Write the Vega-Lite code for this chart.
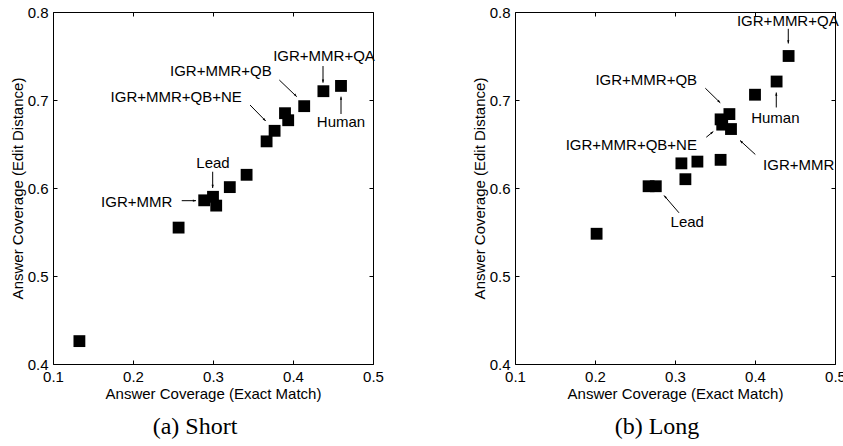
{
  "$schema": "https://vega.github.io/schema/vega-lite/v6.json",
  "padding": {"left": 10, "top": 5, "right": 0, "bottom": 0},
  "spacing": 88,
  "config": {
    "view": {"stroke": null},
    "font": "Liberation Sans",
    "axis": {
      "grid": false,
      "domainColor": "black",
      "domainWidth": 1,
      "tickColor": "black",
      "tickSize": -4,
      "labelPadding": 9,
      "labelColor": "black",
      "labelFont": "Liberation Sans",
      "labelFontSize": 15,
      "labelFlush": false,
      "titleColor": "black",
      "titleFont": "Liberation Sans",
      "titleFontSize": 15,
      "titleFontWeight": "normal",
      "titlePadding": 2
    },
    "title": {
      "font": "Liberation Serif",
      "fontSize": 24,
      "fontWeight": "normal",
      "color": "black"
    }
  },
  "datasets": {
    "short": [
      {"x": 0.460, "y": 0.716}, {"x": 0.438, "y": 0.710}, {"x": 0.414, "y": 0.693},
      {"x": 0.390, "y": 0.685}, {"x": 0.394, "y": 0.677}, {"x": 0.377, "y": 0.665},
      {"x": 0.367, "y": 0.653}, {"x": 0.342, "y": 0.615}, {"x": 0.321, "y": 0.601},
      {"x": 0.300, "y": 0.590}, {"x": 0.289, "y": 0.586}, {"x": 0.304, "y": 0.580},
      {"x": 0.257, "y": 0.555}, {"x": 0.133, "y": 0.426}
    ],
    "long": [
      {"x": 0.442, "y": 0.750}, {"x": 0.427, "y": 0.721}, {"x": 0.400, "y": 0.706},
      {"x": 0.368, "y": 0.684}, {"x": 0.357, "y": 0.678}, {"x": 0.359, "y": 0.672},
      {"x": 0.370, "y": 0.667}, {"x": 0.357, "y": 0.632}, {"x": 0.328, "y": 0.630},
      {"x": 0.308, "y": 0.628}, {"x": 0.313, "y": 0.610}, {"x": 0.267, "y": 0.602},
      {"x": 0.276, "y": 0.602}, {"x": 0.202, "y": 0.548}
    ],
    "shortAnn": [
      {"label": "IGR+MMR+QA", "tx": 0.4388, "ty": 0.750, "ax": 0.4375, "ay": 0.7386, "ax2": 0.4375, "ay2": 0.7197, "heading": 180},
      {"label": "IGR+MMR+QB", "tx": 0.3098, "ty": 0.733, "ax": 0.3829, "ay": 0.7227, "ax2": 0.4046, "ay2": 0.7038, "heading": 137},
      {"label": "IGR+MMR+QB+NE", "tx": 0.254, "ty": 0.7034, "ax": 0.3463, "ay": 0.6943, "ax2": 0.3659, "ay2": 0.6761, "heading": 135},
      {"label": "Human", "tx": 0.46, "ty": 0.675, "ax": 0.46, "ay": 0.6841, "ax2": 0.46, "ay2": 0.7038, "heading": 0},
      {"label": "Lead", "tx": 0.3, "ty": 0.6284, "ax": 0.2996, "ay": 0.6185, "ax2": 0.2996, "ay2": 0.600, "heading": 180},
      {"label": "IGR+MMR", "tx": 0.2046, "ty": 0.5844, "ax": 0.2609, "ay": 0.5856, "ax2": 0.2788, "ay2": 0.5856, "heading": 90}
    ],
    "longAnn": [
      {"label": "IGR+MMR+QA", "tx": 0.441, "ty": 0.7903, "ax": 0.4416, "ay": 0.7809, "ax2": 0.4416, "ay2": 0.7642, "heading": 180},
      {"label": "Human", "tx": 0.4254, "ty": 0.6801, "ax": 0.4266, "ay": 0.6915, "ax2": 0.4266, "ay2": 0.7085, "heading": 0},
      {"label": "IGR+MMR+QB", "tx": 0.2641, "ty": 0.7222, "ax": 0.3379, "ay": 0.7134, "ax2": 0.3566, "ay2": 0.6968, "heading": 134},
      {"label": "IGR+MMR+QB+NE", "tx": 0.2454, "ty": 0.6494, "ax": 0.3391, "ay": 0.6577, "ax2": 0.3479, "ay2": 0.6642, "heading": 51},
      {"label": "IGR+MMR", "tx": 0.4546, "ty": 0.6264, "ax": 0.4004, "ay": 0.6381, "ax2": 0.3813, "ay2": 0.654, "heading": 313},
      {"label": "Lead", "tx": 0.3153, "ty": 0.5611, "ax": 0.305, "ay": 0.5718, "ax2": 0.2863, "ay2": 0.5915, "heading": 319}
    ]
  },
  "hconcat": [
    {
      "width": 320,
      "height": 352,
      "title": {"text": "(a) Short", "orient": "bottom", "offset": 14, "dx": -18},
      "layer": [
        {
          "data": {"name": "short"},
          "mark": {"type": "point", "shape": "square", "filled": true, "size": 140, "color": "black", "opacity": 1, "strokeWidth": 0},
          "encoding": {
            "x": {"field": "x", "type": "quantitative", "scale": {"domain": [0.1, 0.5], "nice": false, "zero": false},
                  "axis": {"orient": "bottom", "values": [0.1, 0.2, 0.3, 0.4, 0.5], "format": ".1f", "title": "Answer Coverage (Exact Match)"}},
            "y": {"field": "y", "type": "quantitative", "scale": {"domain": [0.4, 0.8], "nice": false, "zero": false},
                  "axis": {"orient": "left", "values": [0.4, 0.5, 0.6, 0.7, 0.8], "format": ".1f", "title": "Answer Coverage (Edit Distance)"}}
          }
        },
        {
          "data": {"name": "shortAnn"},
          "mark": {"type": "rule", "color": "black", "strokeWidth": 1},
          "encoding": {
            "x": {"field": "ax", "type": "quantitative", "scale": {"domain": [0.1, 0.5], "nice": false, "zero": false},
                  "axis": {"orient": "top", "values": [0.1, 0.2, 0.3, 0.4, 0.5], "labels": false, "title": null}},
            "y": {"field": "ay", "type": "quantitative", "scale": {"domain": [0.4, 0.8], "nice": false, "zero": false},
                  "axis": {"orient": "right", "values": [0.4, 0.5, 0.6, 0.7, 0.8], "labels": false, "title": null}},
            "x2": {"field": "ax2"},
            "y2": {"field": "ay2"}
          }
        },
        {
          "data": {"name": "shortAnn"},
          "mark": {"type": "point", "shape": "M0,0L-0.35,1L0.35,1Z", "filled": true, "size": 40, "color": "black", "opacity": 1, "strokeWidth": 0},
          "encoding": {
            "x": {"field": "ax2", "type": "quantitative", "scale": {"domain": [0.1, 0.5], "nice": false, "zero": false}, "axis": null},
            "y": {"field": "ay2", "type": "quantitative", "scale": {"domain": [0.4, 0.8], "nice": false, "zero": false}, "axis": null},
            "angle": {"field": "heading", "type": "quantitative", "scale": null}
          }
        },
        {
          "data": {"name": "shortAnn"},
          "mark": {"type": "text", "font": "Liberation Sans", "fontSize": 15, "color": "black", "align": "center", "baseline": "middle"},
          "encoding": {
            "x": {"field": "tx", "type": "quantitative", "scale": {"domain": [0.1, 0.5], "nice": false, "zero": false}, "axis": null},
            "y": {"field": "ty", "type": "quantitative", "scale": {"domain": [0.4, 0.8], "nice": false, "zero": false}, "axis": null},
            "text": {"field": "label", "type": "nominal"}
          }
        }
      ]
    },
    {
      "width": 320,
      "height": 352,
      "title": {"text": "(b) Long", "orient": "bottom", "offset": 14, "dx": -18},
      "layer": [
        {
          "data": {"name": "long"},
          "mark": {"type": "point", "shape": "square", "filled": true, "size": 140, "color": "black", "opacity": 1, "strokeWidth": 0},
          "encoding": {
            "x": {"field": "x", "type": "quantitative", "scale": {"domain": [0.1, 0.5], "nice": false, "zero": false},
                  "axis": {"orient": "bottom", "values": [0.1, 0.2, 0.3, 0.4, 0.5], "format": ".1f", "title": "Answer Coverage (Exact Match)"}},
            "y": {"field": "y", "type": "quantitative", "scale": {"domain": [0.4, 0.8], "nice": false, "zero": false},
                  "axis": {"orient": "left", "values": [0.4, 0.5, 0.6, 0.7, 0.8], "format": ".1f", "title": "Answer Coverage (Edit Distance)"}}
          }
        },
        {
          "data": {"name": "longAnn"},
          "mark": {"type": "rule", "color": "black", "strokeWidth": 1},
          "encoding": {
            "x": {"field": "ax", "type": "quantitative", "scale": {"domain": [0.1, 0.5], "nice": false, "zero": false},
                  "axis": {"orient": "top", "values": [0.1, 0.2, 0.3, 0.4, 0.5], "labels": false, "title": null}},
            "y": {"field": "ay", "type": "quantitative", "scale": {"domain": [0.4, 0.8], "nice": false, "zero": false},
                  "axis": {"orient": "right", "values": [0.4, 0.5, 0.6, 0.7, 0.8], "labels": false, "title": null}},
            "x2": {"field": "ax2"},
            "y2": {"field": "ay2"}
          }
        },
        {
          "data": {"name": "longAnn"},
          "mark": {"type": "point", "shape": "M0,0L-0.35,1L0.35,1Z", "filled": true, "size": 40, "color": "black", "opacity": 1, "strokeWidth": 0},
          "encoding": {
            "x": {"field": "ax2", "type": "quantitative", "scale": {"domain": [0.1, 0.5], "nice": false, "zero": false}, "axis": null},
            "y": {"field": "ay2", "type": "quantitative", "scale": {"domain": [0.4, 0.8], "nice": false, "zero": false}, "axis": null},
            "angle": {"field": "heading", "type": "quantitative", "scale": null}
          }
        },
        {
          "data": {"name": "longAnn"},
          "mark": {"type": "text", "font": "Liberation Sans", "fontSize": 15, "color": "black", "align": "center", "baseline": "middle"},
          "encoding": {
            "x": {"field": "tx", "type": "quantitative", "scale": {"domain": [0.1, 0.5], "nice": false, "zero": false}, "axis": null},
            "y": {"field": "ty", "type": "quantitative", "scale": {"domain": [0.4, 0.8], "nice": false, "zero": false}, "axis": null},
            "text": {"field": "label", "type": "nominal"}
          }
        }
      ]
    }
  ]
}
